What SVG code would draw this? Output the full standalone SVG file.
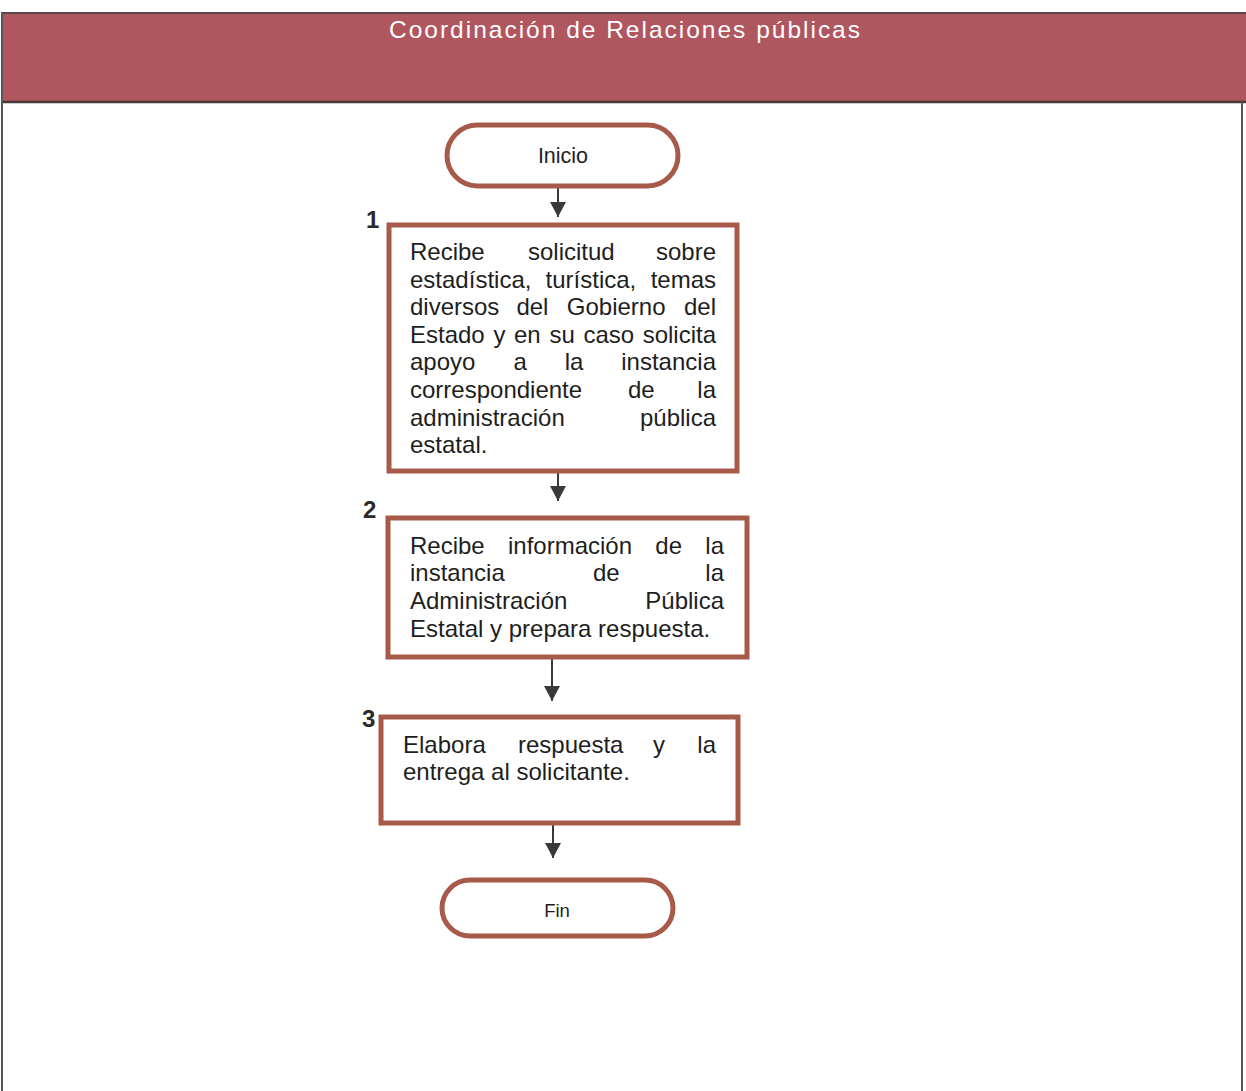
<svg xmlns="http://www.w3.org/2000/svg" width="1246" height="1091" viewBox="0 0 1246 1091">
  <style>
    .title { font-family: "Liberation Sans", Arial, sans-serif; font-size: 24.5px; fill: #ffffff; }
    .body { font-family: "Liberation Sans", Arial, sans-serif; font-size: 24px; fill: #1e1e1e; }
    .term { font-family: "Liberation Sans", Arial, sans-serif; fill: #1e1e1e; text-anchor: middle; }
    .num { font-family: "Liberation Sans", Arial, sans-serif; font-size: 24px; font-weight: bold; fill: #2a2a2a; }
    .box { fill: #ffffff; stroke: #a85a4a; stroke-width: 5; }
    .conn { stroke: #3a3a3a; stroke-width: 2; fill: none; }
    .end { text-anchor: end; }
  </style>
  <defs>
    <marker id="arrow" viewBox="0 0 15 16" refX="15" refY="8" markerWidth="15" markerHeight="16" markerUnits="userSpaceOnUse" orient="auto">
      <path d="M0,0 L15,8 L0,16 Z" fill="#3a3a3a"/>
    </marker>
  </defs>

  <rect width="1246" height="1091" fill="#ffffff"/>

  <!-- header band -->
  <g id="header">
    <rect x="2" y="13" width="1244" height="89" fill="#b0565f"/>
    <line x1="2" y1="13" x2="1246" y2="13" stroke="#5a4548" stroke-width="2"/>
    <line x1="2" y1="102" x2="1246" y2="102" stroke="#4a3a3c" stroke-width="2.5"/>
    <text class="title" x="389" y="38" textLength="471" lengthAdjust="spacing">Coordinación de Relaciones públicas</text>
  </g>

  <!-- page frame -->
  <g id="frame" stroke="#555555" stroke-width="2">
    <line x1="2" y1="12" x2="2" y2="1091"/>
    <line x1="1242" y1="102" x2="1242" y2="1091"/>
  </g>

  <!-- connectors -->
  <g id="connectors">
    <line class="conn" x1="558" y1="188" x2="558" y2="217" marker-end="url(#arrow)"/>
    <line class="conn" x1="558" y1="473" x2="558" y2="501" marker-end="url(#arrow)"/>
    <line class="conn" x1="552" y1="659" x2="552" y2="701" marker-end="url(#arrow)"/>
    <line class="conn" x1="553" y1="825" x2="553" y2="858" marker-end="url(#arrow)"/>
  </g>

  <!-- start -->
  <g id="inicio">
    <rect class="box" x="447" y="125" width="231" height="61" rx="30.5"/>
    <text class="term" x="563" y="163" font-size="21.5">Inicio</text>
  </g>

  <!-- step 1 -->
  <g id="step1">
    <rect class="box" x="389" y="225" width="348" height="246"/>
    <text class="num" x="366" y="228">1</text>
    <text class="body" y="260"><tspan x="410">Recibe</tspan><tspan x="528">solicitud</tspan><tspan x="716" class="end">sobre</tspan></text>
    <text class="body" y="288"><tspan x="410">estadística,</tspan><tspan x="545.6">turística,</tspan><tspan x="716" class="end">temas</tspan></text>
    <text class="body" y="315"><tspan x="410">diversos</tspan><tspan x="516.4">del</tspan><tspan x="566.8">Gobierno</tspan><tspan x="716" class="end">del</tspan></text>
    <text class="body" y="343"><tspan x="410">Estado</tspan><tspan x="493.4">y</tspan><tspan x="514">en</tspan><tspan x="549.5">su</tspan><tspan x="583.5">caso</tspan><tspan x="716" class="end">solicita</tspan></text>
    <text class="body" y="370"><tspan x="410">apoyo</tspan><tspan x="513.4">a</tspan><tspan x="564.7">la</tspan><tspan x="716" class="end">instancia</tspan></text>
    <text class="body" y="398"><tspan x="410">correspondiente</tspan><tspan x="628">de</tspan><tspan x="716" class="end">la</tspan></text>
    <text class="body" y="426"><tspan x="410">administración</tspan><tspan x="716" class="end">pública</tspan></text>
    <text class="body" y="453"><tspan x="410">estatal.</tspan></text>
  </g>

  <!-- step 2 -->
  <g id="step2">
    <rect class="box" x="388" y="518" width="359" height="139"/>
    <text class="num" x="363" y="518">2</text>
    <text class="body" y="554"><tspan x="410">Recibe</tspan><tspan x="508">información</tspan><tspan x="655.3">de</tspan><tspan x="724" class="end">la</tspan></text>
    <text class="body" y="581"><tspan x="410">instancia</tspan><tspan x="593">de</tspan><tspan x="724" class="end">la</tspan></text>
    <text class="body" y="609"><tspan x="410">Administración</tspan><tspan x="724" class="end">Pública</tspan></text>
    <text class="body" y="637"><tspan x="410">Estatal y prepara respuesta.</tspan></text>
  </g>

  <!-- step 3 -->
  <g id="step3">
    <rect class="box" x="381" y="717" width="357" height="106"/>
    <text class="num" x="362" y="727">3</text>
    <text class="body" y="753"><tspan x="403">Elabora</tspan><tspan x="518">respuesta</tspan><tspan x="653">y</tspan><tspan x="716" class="end">la</tspan></text>
    <text class="body" y="780"><tspan x="403">entrega al solicitante.</tspan></text>
  </g>

  <!-- end -->
  <g id="fin">
    <rect class="box" x="442" y="880" width="231" height="56" rx="28"/>
    <text class="term" x="557" y="917" font-size="18.5">Fin</text>
  </g>
</svg>
